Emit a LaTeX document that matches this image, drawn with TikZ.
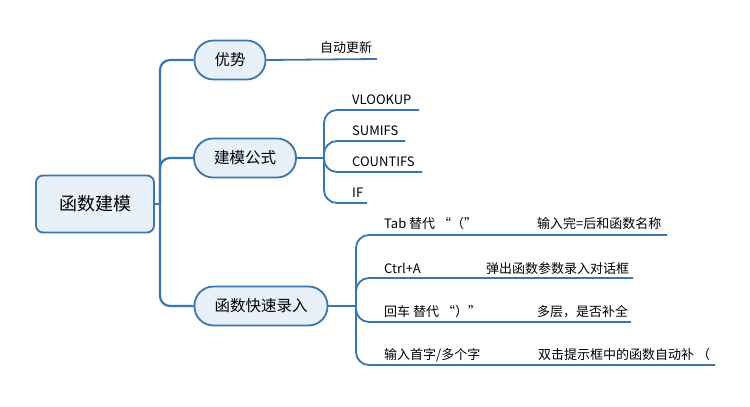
\documentclass[tikz,border=0pt]{standalone}
\usepackage{fontspec}
\setmainfont{Noto Sans CJK SC}
\usetikzlibrary{calc}

\definecolor{mapblue}{RGB}{58,118,170}
\definecolor{mapfill}{RGB}{232,240,249}

\begin{document}
\begin{tikzpicture}[x=1pt, y=-1pt,
    rootbox/.style={draw=mapblue, fill=mapfill, line width=1.8pt, rounded corners=7pt,
        minimum width=118pt, minimum height=57pt, font=\fontsize{18}{20}\selectfont},
    topic/.style={draw=mapblue, fill=mapfill, line width=1.8pt, rounded corners=19pt,
        minimum height=39pt, inner xsep=20pt, font=\fontsize{15.5}{18}\selectfont},
    leaf/.style={anchor=base west, inner sep=0pt, font=\fontsize{13}{15}\selectfont},
    trunk/.style={draw=mapblue, line width=2.2pt, rounded corners=10pt},
    twig/.style={draw=mapblue, line width=1.8pt, rounded corners=13pt}]

\fill[white] (0,0) rectangle (750,407);
\useasboundingbox (0,0) rectangle (750,407);

\node[rootbox] (root) at (95,204) {函数建模};

\node[topic] (adv) at (230,60) {优势};
            \node[topic] (fml) at (245,158) {建模公式};
            \node[topic] (fast) at (261,306) {函数快速录入};

\coordinate (rj) at (160,204);
            \draw[trunk] (root.east) -- (rj);
            \draw[trunk] (rj) |- (adv.west);
            \draw[trunk] (rj) |- (fml.west);
            \draw[trunk] (rj) |- (fast.west);

%% 优势
\node[leaf] (upd) at (320,52) {自动更新};
            \coordinate (updend) at (377,59);
            \draw[twig] (adv.east) -- (updend);

%% 建模公式
\coordinate (fj) at (324,158);
            \draw[twig] (fml.east) -- (fj);
            \node[leaf] (vl) at (352,104) {VLOOKUP};
            \node[leaf] (sm) at (352,135) {SUMIFS};
            \node[leaf] (ct) at (352,166) {COUNTIFS};
            \node[leaf] (iff) at (352,197) {IF};
            \coordinate (vlend) at (419,110);
            \coordinate (smend) at (405,141);
            \coordinate (ctend) at (422,172);
            \coordinate (ifend) at (367,203);
            \draw[twig] (fj) |- (vlend);
            \draw[twig] (fj) |- (smend);
            \draw[twig] (fj) |- (ctend);
            \draw[twig] (fj) |- (ifend);

%% 函数快速录入
\coordinate (qj) at (356,306);
            \draw[twig] (fast.east) -- (qj);

\node[leaf] (tab) at (384,228) {Tab 替代 “（”};
            \node[leaf] (tabx) at (537,228) {输入完=后和函数名称};
            \coordinate (tabmid) at (512,235);
            \coordinate (tabend) at (667,235);
            \draw[twig] (qj) |- (tabmid) -- (tabend);

\node[leaf] (ctrl) at (384,273) {Ctrl+A};
            \node[leaf] (ctrlx) at (486,273) {弹出函数参数录入对话框};
            \coordinate (ctrlmid) at (460,278);
            \coordinate (ctrlend) at (633,278);
            \draw[twig] (qj) |- (ctrlmid) -- (ctrlend);

\node[leaf] (ent) at (384,316) {回车 替代 “）”};
            \node[leaf] (entx) at (537,316) {多层，是否补全};
            \coordinate (entmid) at (508,322);
            \coordinate (entend) at (631,322);
            \draw[twig] (qj) |- (entmid) -- (entend);

\node[leaf] (ini) at (384,359) {输入首字/多个字};
            \node[leaf] (inix) at (538,359) {双击提示框中的函数自动补 （};
            \coordinate (inimid) at (512,365);
            \coordinate (iniend) at (715,365);
            \draw[twig] (qj) |- (inimid) -- (iniend);

\end{tikzpicture}
\end{document}
